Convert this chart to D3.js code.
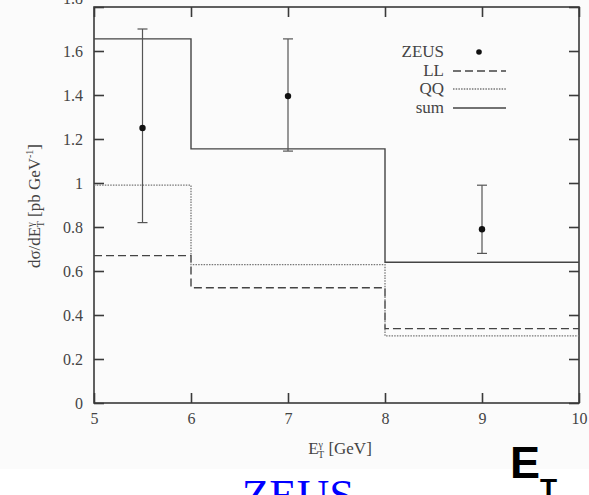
<!DOCTYPE html>
<html>
<head>
<meta charset="utf-8">
<script src="https://cdn.jsdelivr.net/npm/d3@7"></script>
<style>
  html, body { margin: 0; padding: 0; background: #ffffff; }
  svg { display: block; }
  .serif { font-family: "Liberation Serif", "DejaVu Serif", serif; }
</style>
</head>
<body>
<svg id="chart" width="589" height="495"></svg>
<script>
// Bin edges in E_T^gamma [GeV]
const binEdges = [5, 6, 8, 10];
// Predicted cross sections per bin [pb/GeV]
const llValues  = [0.67, 0.524, 0.338];
const qqValues  = [0.99, 0.629, 0.305];
const sumValues = [1.655, 1.155, 0.64];
// ZEUS measurements with error bars
const zeusEt    = [5.5, 7, 9];
const zeusValue = [1.25, 1.395, 0.79];
const zeusHigh  = [1.70, 1.655, 0.99];
const zeusLow   = [0.82, 1.145, 0.68];
// Axis ticks
const xTicks = [5, 6, 7, 8, 9, 10];
const yTicks = [0, 0.2, 0.4, 0.6, 0.8, 1.0, 1.2, 1.4, 1.6, 1.8];
const legendLabels = ["ZEUS", "LL", "QQ", "sum"];

const ink = "#3a3a3a";
const svg = d3.select("#chart");

svg.append("rect").attr("x", 0).attr("y", 0).attr("width", 589).attr("height", 469)
  .attr("fill", "#fbfbfb");

const x = d3.scaleLinear().domain([5, 10]).range([94, 579]);
const y = d3.scaleLinear().domain([0, 1.8]).range([403, 7]);

const fmtY = d => (d === 0 ? "0" : d === 1 ? "1" : d3.format(".1f")(d));

function styleAxis(g) {
  g.select(".domain").remove();
  g.selectAll(".tick line").attr("stroke", ink).attr("stroke-width", 1.6);
  g.selectAll(".tick text").attr("fill", "#444").attr("class", "serif")
    .style("font-size", "16px");
}

// bottom / top
svg.append("g").attr("transform", `translate(0,${y(0)})`)
  .call(d3.axisBottom(x).tickValues(xTicks).tickSizeInner(-10).tickSizeOuter(0).tickPadding(10)
    .tickFormat(d3.format("d")))
  .call(styleAxis);
svg.append("g").attr("transform", `translate(0,${y(1.8)})`)
  .call(d3.axisTop(x).tickValues(xTicks).tickSizeInner(-10).tickSizeOuter(0).tickFormat(""))
  .call(styleAxis);
// left / right
const yAxisG = svg.append("g").attr("transform", `translate(${x(5)},0)`)
  .call(d3.axisLeft(y).tickValues(yTicks).tickSizeInner(-10).tickSizeOuter(0).tickPadding(11)
    .tickFormat(fmtY))
  .call(styleAxis);
// the topmost label sits above the frame corner
yAxisG.selectAll(".tick text").filter(d => d === 1.8).attr("dy", "-0.2em");
svg.append("g").attr("transform", `translate(${x(10)},0)`)
  .call(d3.axisRight(y).tickValues(yTicks).tickSizeInner(-10).tickSizeOuter(0).tickFormat(""))
  .call(styleAxis);

// frame
svg.append("rect").attr("x", x(5)).attr("y", y(1.8))
  .attr("width", x(10) - x(5)).attr("height", y(0) - y(1.8))
  .attr("fill", "none").attr("stroke", ink).attr("stroke-width", 1.6);

// histogram steps
const stepLine = d3.line().x(d => x(d[0])).y(d => y(d[1])).curve(d3.curveStepAfter);
function steps(values) {
  const pts = values.map((v, i) => [binEdges[i], v]);
  pts.push([binEdges[binEdges.length - 1], values[values.length - 1]]);
  return pts;
}
const series = [
  { vals: llValues,  dash: "8,4",     color: "#444", width: 1.4 },
  { vals: qqValues,  dash: "1.5,1.2", color: "#777", width: 1.3 },
  { vals: sumValues, dash: null,      color: "#444", width: 1.4 }
];
series.forEach(s => {
  svg.append("path").attr("d", stepLine(steps(s.vals)))
    .attr("fill", "none").attr("stroke", s.color)
    .attr("stroke-width", s.width)
    .attr("stroke-dasharray", s.dash);
});

// ZEUS points with error bars
const pts = svg.append("g");
zeusEt.forEach((e, i) => {
  const cx = x(e);
  pts.append("line").attr("x1", cx).attr("x2", cx).attr("y1", y(zeusHigh[i])).attr("y2", y(zeusLow[i]))
    .attr("stroke", "#555").attr("stroke-width", 1.2);
  [zeusHigh[i], zeusLow[i]].forEach(v => {
    pts.append("line").attr("x1", cx - 5).attr("x2", cx + 5).attr("y1", y(v)).attr("y2", y(v))
      .attr("stroke", "#555").attr("stroke-width", 1.2);
  });
  pts.append("circle").attr("cx", cx).attr("cy", y(zeusValue[i])).attr("r", 3.2).attr("fill", "#111");
});

// legend
const legY = [52, 71, 89, 108];
const leg = svg.append("g");
legendLabels.forEach((lab, i) => {
  leg.append("text").attr("class", "serif").attr("x", 444).attr("y", legY[i] + 5)
    .attr("text-anchor", "end").attr("fill", "#444").style("font-size", "17px").text(lab);
  if (i === 0) {
    leg.append("circle").attr("cx", 479).attr("cy", legY[i]).attr("r", 2.8).attr("fill", "#111");
  } else {
    const s = series[i - 1];
    leg.append("line").attr("x1", 453).attr("x2", 506).attr("y1", legY[i]).attr("y2", legY[i])
      .attr("stroke", s.color).attr("stroke-width", 1.3)
      .attr("stroke-dasharray", s.dash);
  }
});

// x axis title
const xt = svg.append("text").attr("class", "serif").attr("x", 340).attr("y", 454)
  .attr("text-anchor", "middle").attr("fill", "#444").style("font-size", "17px");
xt.append("tspan").text("E");
xt.append("tspan").attr("dy", -6).style("font-size", "10px").text("γ");
xt.append("tspan").attr("dx", -5).attr("dy", 10).style("font-size", "10px").text("T");
xt.append("tspan").attr("dy", -4).text("  [GeV]");

// y axis title
const yt = svg.append("text").attr("class", "serif")
  .attr("transform", `translate(40,206) rotate(-90)`)
  .attr("text-anchor", "middle").attr("fill", "#444").style("font-size", "17px");
yt.append("tspan").text("dσ/dE");
yt.append("tspan").attr("dy", -6).style("font-size", "10px").text("γ");
yt.append("tspan").attr("dx", -5).attr("dy", 10).style("font-size", "10px").text("T");
yt.append("tspan").attr("dy", -4).text("  [pb GeV");
yt.append("tspan").attr("dy", -7).style("font-size", "10px").text("-1");
yt.append("tspan").attr("dy", 7).text("]");

// caption
svg.append("text").attr("class", "serif").attr("x", 298).attr("y", 510)
  .attr("text-anchor", "middle").attr("fill", "#0000ff").style("font-size", "45px").text("ZEUS");
const et = svg.append("text").attr("x", 510).attr("y", 478)
  .attr("fill", "#000").style("font-family", "'Liberation Sans', Arial, sans-serif")
  .style("font-weight", "bold").style("font-size", "45px");
et.append("tspan").text("E");
et.append("tspan").attr("dy", 20).style("font-size", "28px").text("T");
</script>
</body>
</html>
